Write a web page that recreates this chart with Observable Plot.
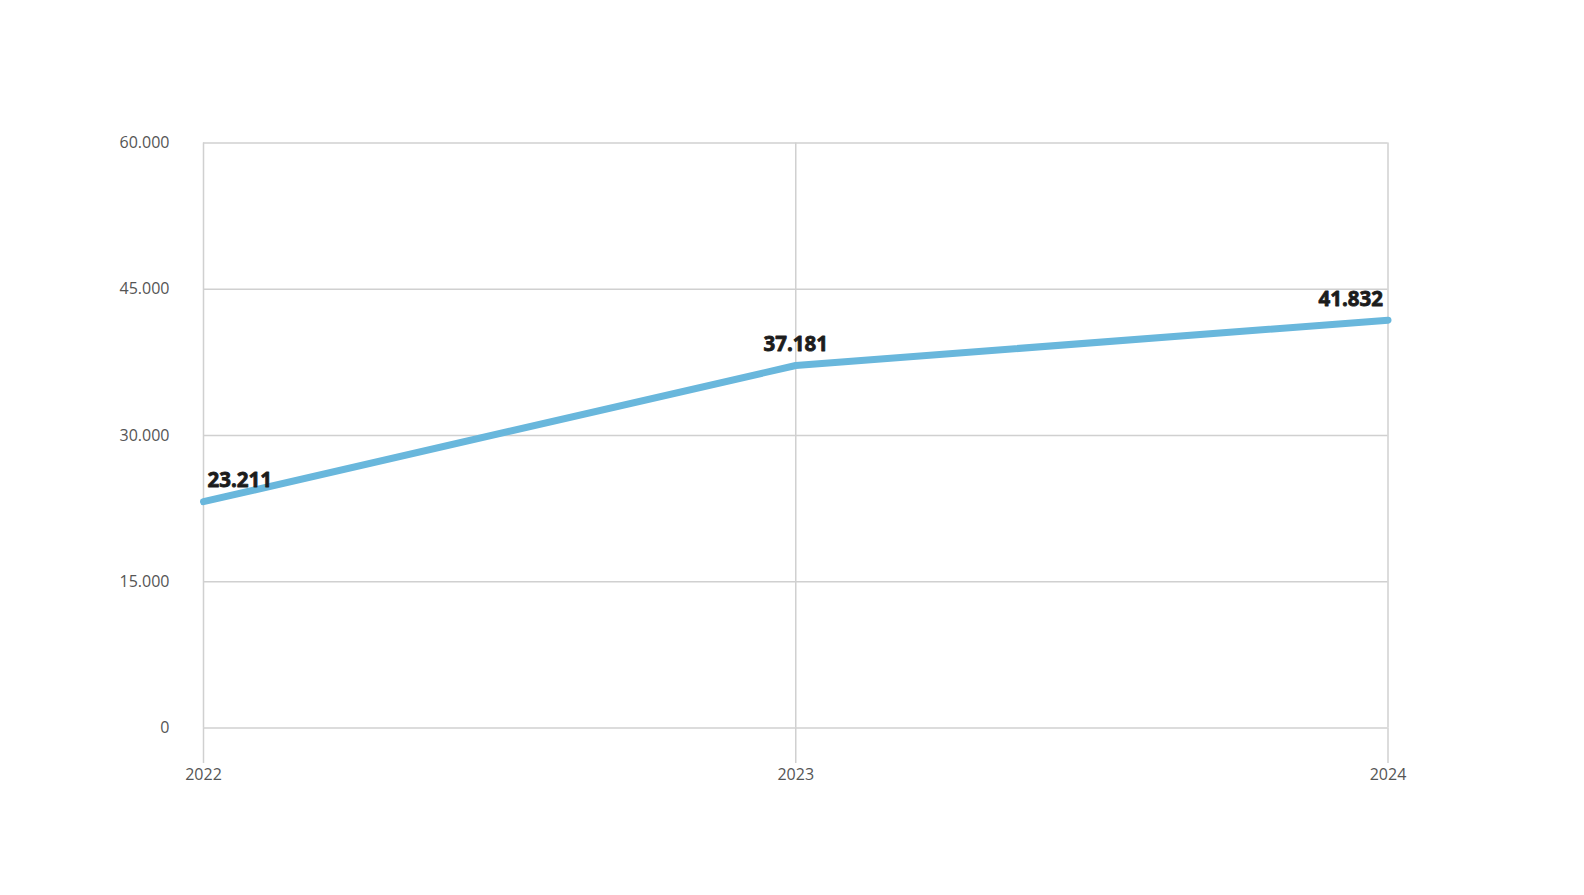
<!DOCTYPE html>
<html><head><meta charset="utf-8">
<script src="https://cdn.jsdelivr.net/npm/d3@7"></script>
<script src="https://cdn.jsdelivr.net/npm/@observablehq/plot@0.6"></script>
<style>
html,body{margin:0;padding:0;background:#fff;overflow:hidden;}
#chart{width:1584px;height:895px;}
#chart svg{display:block;max-width:none;}
</style>
</head><body><div id="chart"></div>
<script>
const years = [2022, 2023, 2024];
const values = [23211, 37181, 41832];
const yTicks = [0, 15000, 30000, 45000, 60000];
const labelAnchors = ["start", "middle", "end"];
const labelDx = [4, 0, -5];

const data = years.map((y, i) => ({year: y, value: values[i], anchor: labelAnchors[i], dx: labelDx[i]}));
const fmt = d3.formatLocale({decimal: ",", thousands: ".", grouping: [3], currency: ["", "€"]}).format(",d");

const grid = "#d0d0d0";
const plot = Plot.plot({
  width: 1584, height: 895,
  marginTop: 142.5, marginBottom: 167.5, marginLeft: 203, marginRight: 196.5,
  style: {fontFamily: "'Open Sans', sans-serif", background: "#fff"},
  x: {domain: [2022, 2024]},
  y: {domain: [0, 60000]},
  marks: [
    Plot.ruleY(yTicks, {stroke: grid, strokeWidth: 1.5}),
    Plot.ruleX(years, {stroke: grid, strokeWidth: 1.5}),
    Plot.axisY({ticks: yTicks, tickSize: 0, tickPadding: 34, tickFormat: fmt, fill: "#555", fontSize: 16, label: null}),
    Plot.axisX({ticks: years, tickSize: 35.5, tickPadding: 5, tickFormat: d => String(d), stroke: grid, strokeWidth: 1.5, fill: "#555", fontSize: 16, label: null}),
    Plot.line(data, {x: "year", y: "value", stroke: "#69b7dc", strokeWidth: 7}),
    ...data.map(d => Plot.text([d], {x: "year", y: "value", text: d => fmt(d.value), textAnchor: d.anchor, dx: d.dx, dy: -21, fontSize: 20.5, fontWeight: "bold", fill: "#1c1c1c", stroke: "#1c1c1c", strokeWidth: 0.8}))
  ]
});
document.getElementById("chart").append(plot);
</script>
</body></html>
